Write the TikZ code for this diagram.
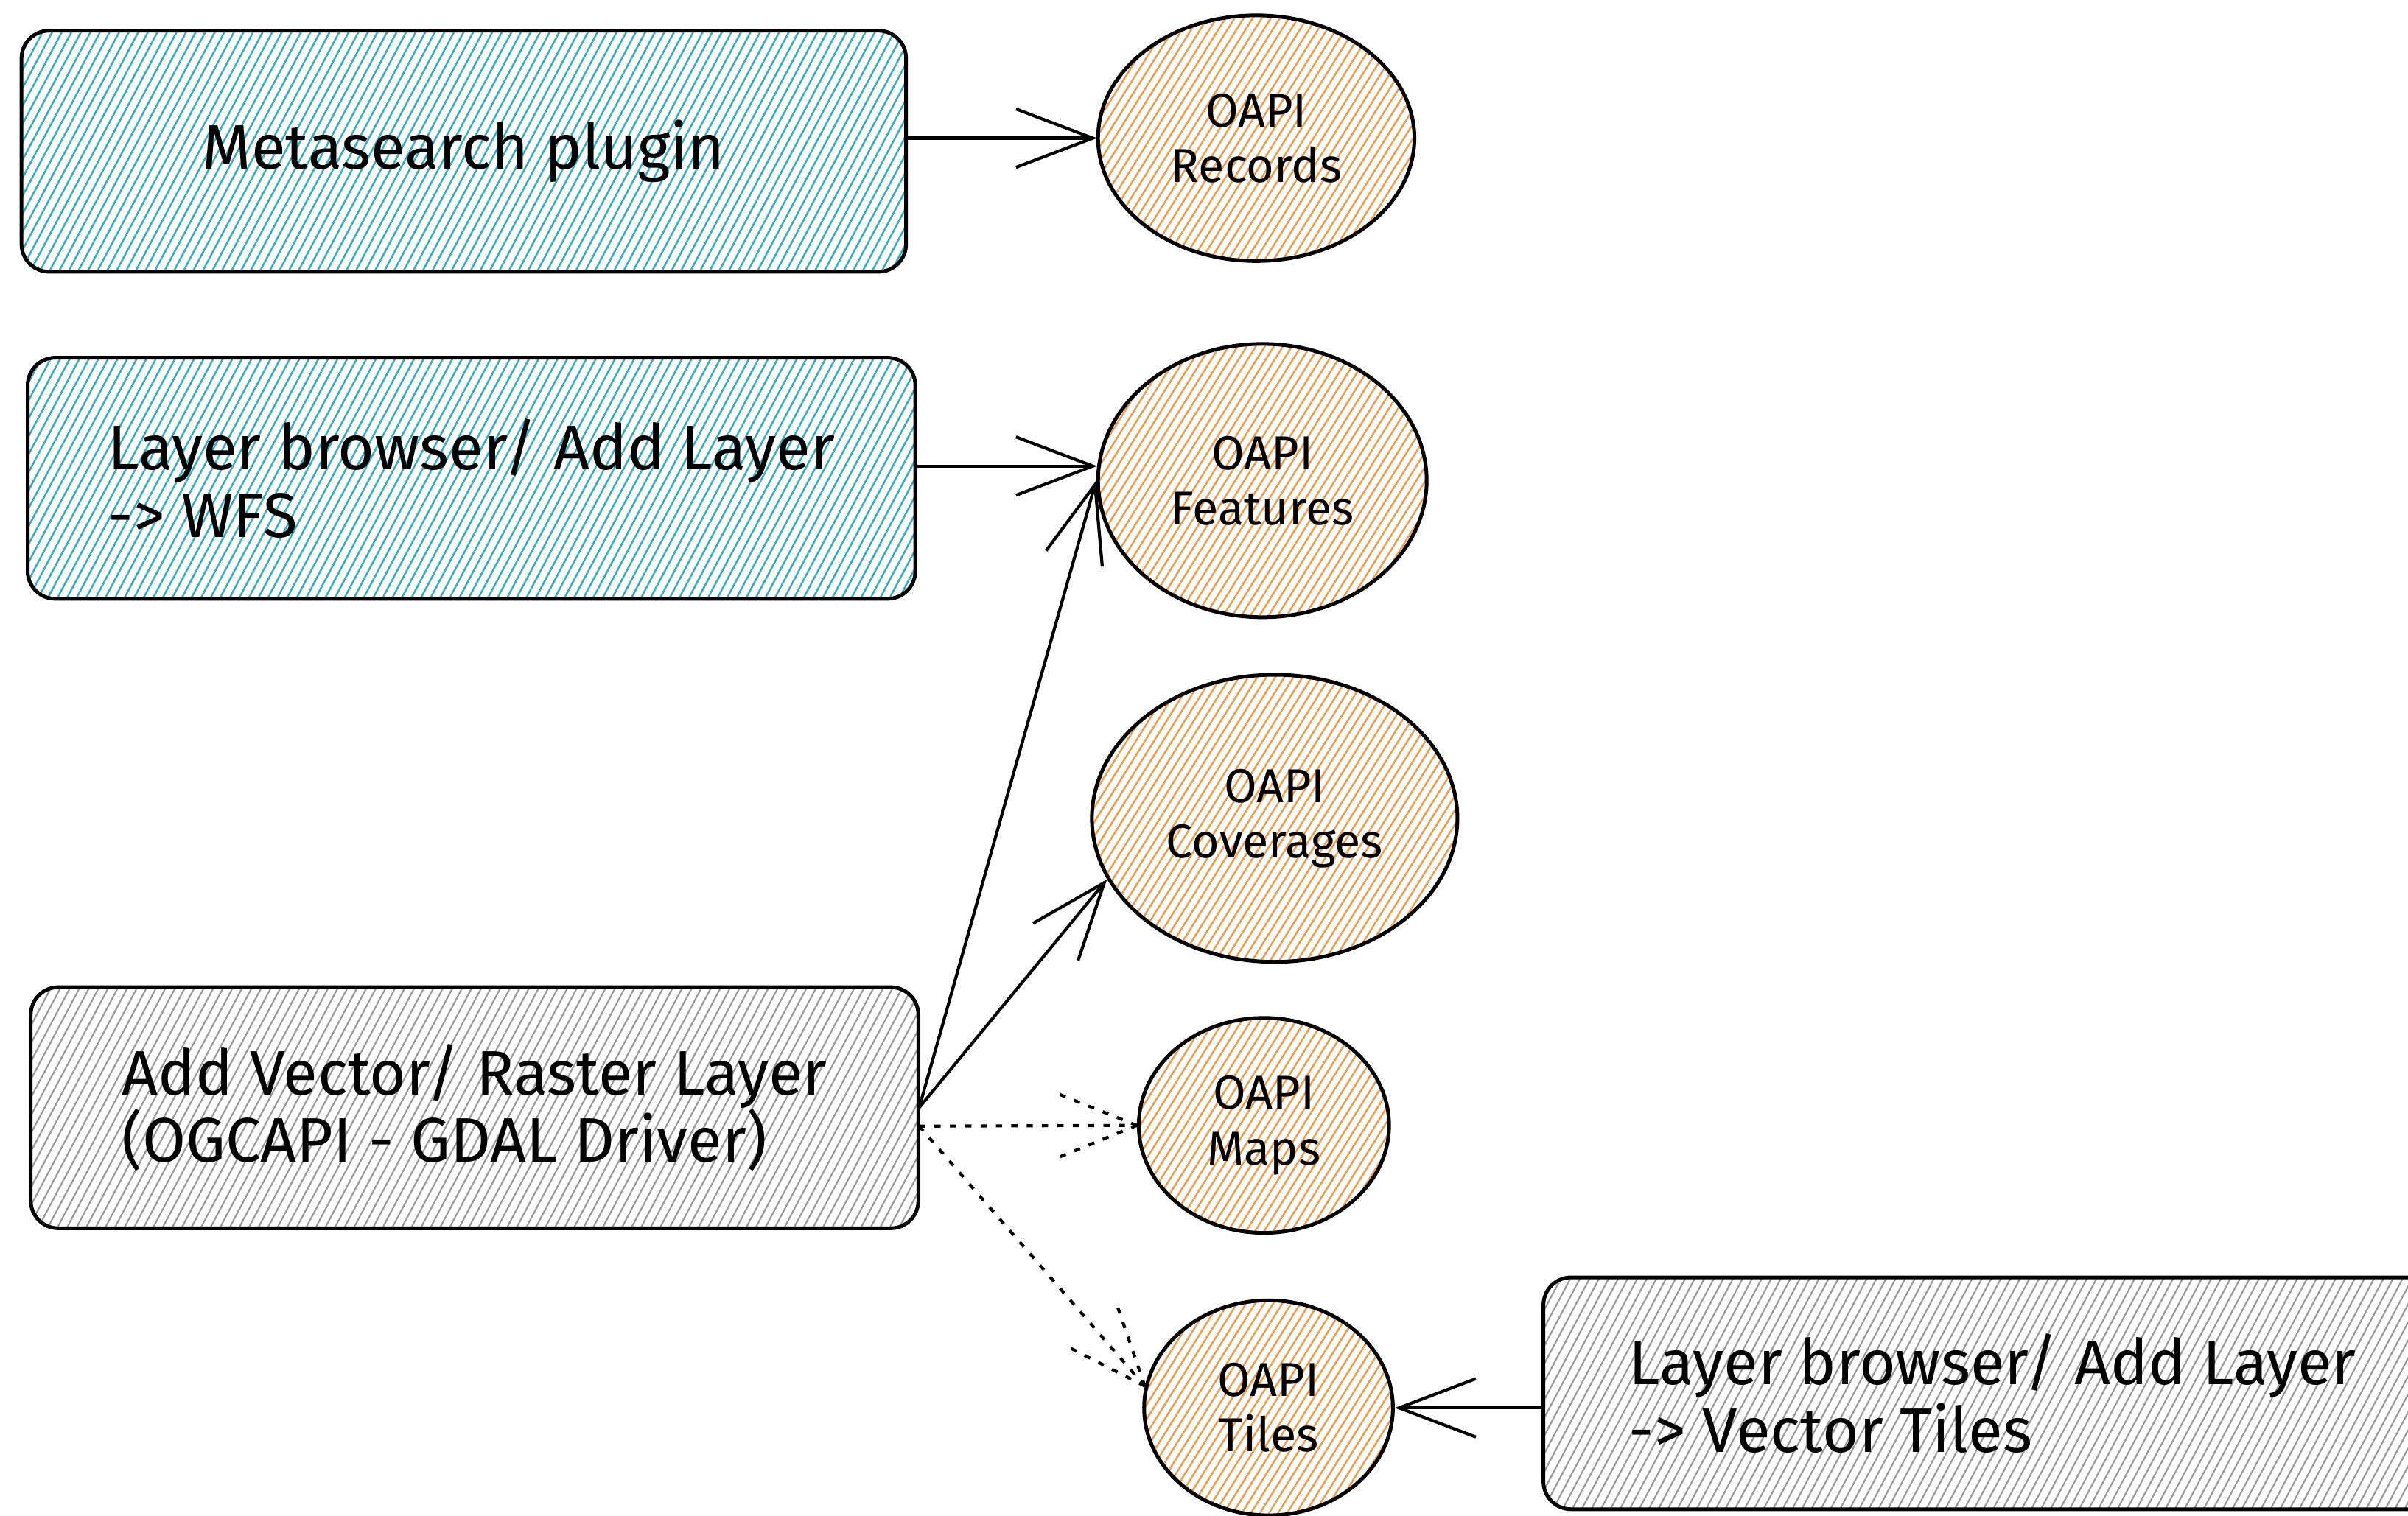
\documentclass[tikz,border=0pt]{standalone}
\usepackage{fontspec}
\setmainfont{Fira Sans}
\usetikzlibrary{shapes.geometric,patterns.meta,arrows.meta,calc}
\definecolor{hcyan}{HTML}{33ADC4}
\definecolor{horange}{HTML}{F39A4A}
\definecolor{hgray}{HTML}{969696}
\begin{document}
\begin{tikzpicture}[x=1pt,y=-1pt,
  boxnode/.style={rectangle, draw=black, line width=2.4pt, rounded corners=18pt, inner sep=0pt, align=left, font=\fontsize{41}{44}\selectfont},
  cyanfill/.style={pattern={Lines[angle=62,distance=5.5pt,line width=1.2pt]}, pattern color=hcyan},
  grayfill/.style={pattern={Lines[angle=62,distance=5.5pt,line width=1pt]}, pattern color=hgray},
  oapi/.style={ellipse, draw=black, line width=2.4pt, inner sep=0pt, align=center, font=\fontsize{31}{36}\selectfont, pattern={Lines[angle=58,distance=5pt,line width=1.2pt]}, pattern color=horange},
  conn/.style={line width=2pt, -{Straight Barb[length=50pt,width=38pt]}},
  dotconn/.style={line width=2pt, dash pattern=on 4pt off 6pt},
]
\useasboundingbox (0,0) rectangle (1568,987);

% boxes
\node[boxnode, cyanfill, minimum width=576pt, minimum height=157pt] (b1) at (302,98.5) {Metasearch plugin};
\node[boxnode, cyanfill, minimum width=578pt, minimum height=157pt] (b2) at (307,311.5) {Layer browser/ Add Layer\\-> WFS};
\node[boxnode, grayfill, minimum width=578pt, minimum height=157pt] (b3) at (309,721.5) {Add Vector/ Raster Layer\\(OGCAPI - GDAL Driver)};
\node[boxnode, grayfill, minimum width=585pt, minimum height=151pt] (b4) at (1297.5,907.5) {Layer browser/ Add Layer\\-> Vector Tiles};

% circles
\node[oapi, minimum width=206pt, minimum height=160pt] (rec) at (818,90) {OAPI\\Records};
\node[oapi, minimum width=214pt, minimum height=178pt] (feat) at (822,313) {OAPI\\Features};
\node[oapi, minimum width=238pt, minimum height=187pt] (cov) at (830,533) {OAPI\\Coverages};
\node[oapi, minimum width=163pt, minimum height=140pt] (maps) at (823,733) {OAPI\\Maps};
\node[oapi, minimum width=162pt, minimum height=140pt] (tiles) at (826,917) {OAPI\\Tiles};

% connectors
\draw[conn] (rec.west -| b1.east) -- (rec.west);
\draw[conn] (feat.175 -| b2.east) -- (feat.175);
\draw[conn] (b3.east) -- (feat.west);
\draw[conn] (b3.east) -- (cov.200);
\coordinate (b3s) at ([yshift=-12pt]b3.east);
\draw[dotconn] (b3s) -- (maps.west);
\draw[dotconn] (maps.west) -- ($(maps.west)!55pt!22:(b3s)$);
\draw[dotconn] (maps.west) -- ($(maps.west)!55pt!-22:(b3s)$);
\draw[dotconn] (b3s) -- (tiles.170);
\draw[dotconn] (tiles.170) -- ($(tiles.170)!55pt!22:(b3s)$);
\draw[dotconn] (tiles.170) -- ($(tiles.170)!55pt!-22:(b3s)$);
\draw[conn] (tiles.east -| b4.west) -- (tiles.east);
\end{tikzpicture}
\end{document}
